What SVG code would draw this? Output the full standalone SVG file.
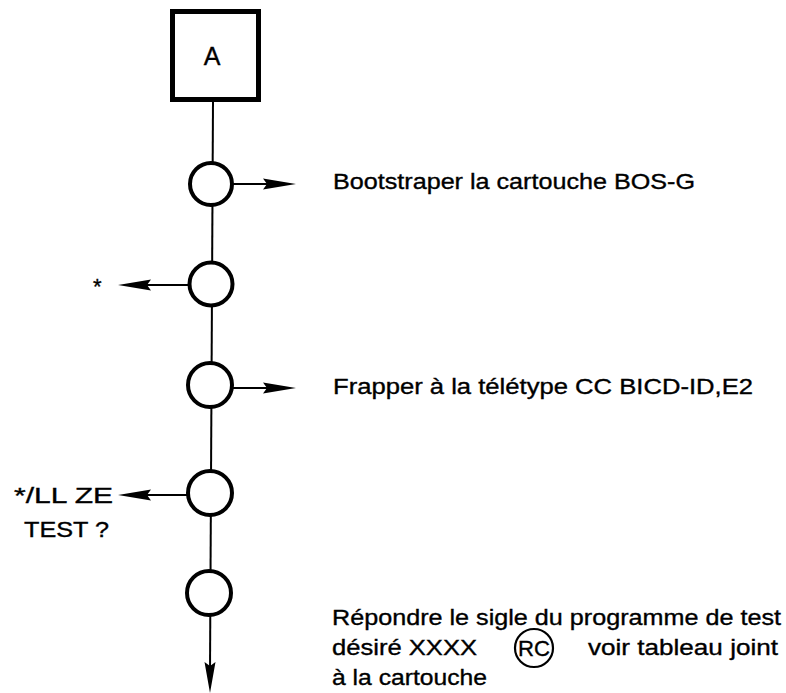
<svg xmlns="http://www.w3.org/2000/svg" width="786" height="693" viewBox="0 0 786 693">
  <style>
    .lbl { font-family: "Liberation Sans", "DejaVu Sans", sans-serif; font-size: 22px; fill: #000; stroke: #000; stroke-width: 0.35; }
    .flow { stroke: #000; stroke-width: 2; fill: none; }
    .step { fill: #fff; stroke: #000; stroke-width: 4; }
    .head { fill: #000; }
  </style>
  <rect width="786" height="693" fill="#fff"/>

  <!-- connectors -->
  <g id="connectors">
    <line class="flow" x1="213" y1="101" x2="210" y2="672"/>
    <!-- step 1: output to the right -->
    <line class="flow" x1="232" y1="184" x2="270" y2="184"/>
    <path class="head" d="M263,178.5 L296,184 L263,189.5 L267,184 Z"/>
    <!-- step 2: output to the left -->
    <line class="flow" x1="189" y1="285" x2="145" y2="285"/>
    <path class="head" d="M151,279.5 L118,285 L151,290.5 L147,285 Z"/>
    <!-- step 3: output to the right -->
    <line class="flow" x1="231" y1="388" x2="270" y2="388"/>
    <path class="head" d="M263,382.5 L296,388 L263,393.5 L267,388 Z"/>
    <!-- step 4: output to the left -->
    <line class="flow" x1="188" y1="495" x2="145" y2="495"/>
    <path class="head" d="M151,489.5 L118,495 L151,500.5 L147,495 Z"/>
    <!-- exit downward -->
    <path class="head" d="M204.5,662 L210,693 L215.5,662 L210,666 Z"/>
  </g>

  <!-- start box -->
  <g id="node-A">
    <rect x="172.5" y="11.5" width="86" height="88" fill="#fff" stroke="#000" stroke-width="5"/>
    <text class="lbl" x="212" y="65" text-anchor="middle" style="font-size:25px">A</text>
  </g>

  <!-- steps -->
  <g id="step-1">
    <circle class="step" cx="211" cy="184" r="21"/>
    <text class="lbl" x="333" y="189" textLength="362" lengthAdjust="spacingAndGlyphs">Bootstraper la cartouche BOS-G</text>
  </g>
  <g id="step-2">
    <circle class="step" cx="211" cy="284" r="21.5"/>
    <text class="lbl" x="93" y="294">*</text>
  </g>
  <g id="step-3">
    <circle class="step" cx="210" cy="385" r="22"/>
    <text class="lbl" x="333" y="394" textLength="420" lengthAdjust="spacingAndGlyphs">Frapper à la télétype CC BICD-ID,E2</text>
  </g>
  <g id="step-4">
    <circle class="step" cx="210" cy="493" r="22"/>
    <text class="lbl" x="14" y="503" textLength="99" lengthAdjust="spacingAndGlyphs">*/LL ZE</text>
    <text class="lbl" x="24" y="537" textLength="85" lengthAdjust="spacingAndGlyphs">TEST ?</text>
  </g>
  <g id="step-5">
    <circle class="step" cx="209" cy="593" r="22"/>
    <text class="lbl" x="332" y="625" textLength="449" lengthAdjust="spacingAndGlyphs">Répondre le sigle du programme de test</text>
    <text class="lbl" x="332" y="655" textLength="145" lengthAdjust="spacingAndGlyphs">désiré XXXX</text>
    <circle cx="534" cy="648" r="19" fill="none" stroke="#000" stroke-width="2.2"/>
    <text class="lbl" x="534" y="656" text-anchor="middle" textLength="32" lengthAdjust="spacingAndGlyphs">RC</text>
    <text class="lbl" x="588" y="655" textLength="190" lengthAdjust="spacingAndGlyphs">voir tableau joint</text>
    <text class="lbl" x="332" y="685" textLength="155" lengthAdjust="spacingAndGlyphs">à la cartouche</text>
  </g>
</svg>
